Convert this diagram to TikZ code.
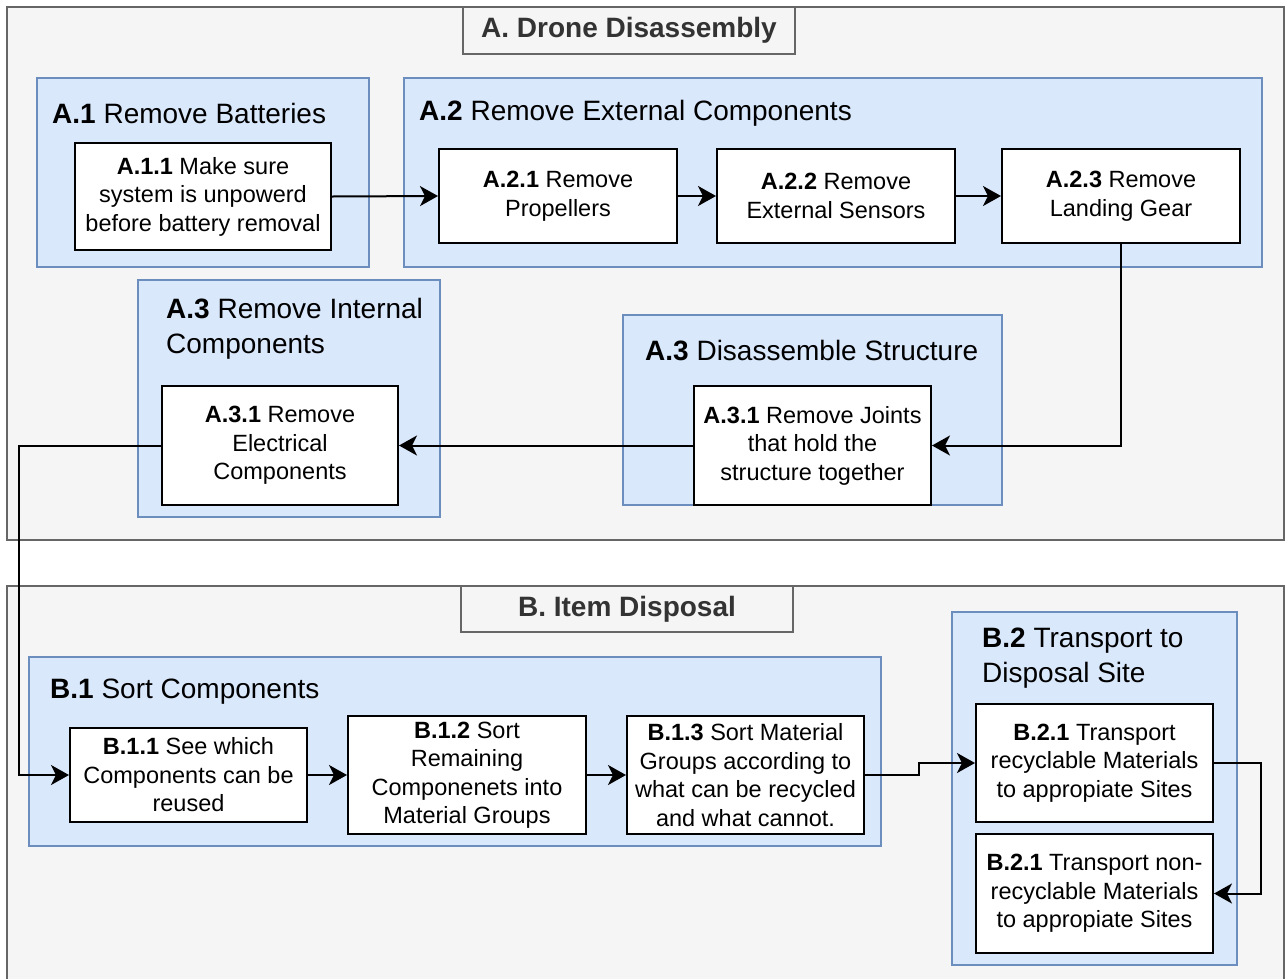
\documentclass[tikz,border=0pt]{standalone}
\usepackage{fontspec}
\setmainfont{Liberation Sans}
\usetikzlibrary{positioning, arrows.meta}

\definecolor{grpfill}{HTML}{DAE8FC}
\definecolor{grpline}{HTML}{6C8EBF}
\definecolor{stagefill}{HTML}{F5F5F5}
\definecolor{stageline}{HTML}{666666}
\definecolor{stagetext}{HTML}{333333}

\tikzset{
	stage/.style={draw=stageline, fill=stagefill, line width=2pt},
	stagehdr/.style={draw=stageline, fill=stagefill, line width=2pt, text=stagetext,
		font=\fontsize{28}{34}\selectfont\bfseries, minimum width=332pt, minimum height=47pt, inner sep=0pt},
	grp/.style={draw=grpline, fill=grpfill, line width=2pt},
	grptitle/.style={anchor=west, align=left, inner sep=0pt, font=\fontsize{28}{35}\selectfont},
	task/.style={draw=black, fill=white, line width=2pt, align=center, inner sep=0pt,
		font=\fontsize{23.5}{28.5}\selectfont},
	flow/.style={line width=2pt, -{Stealth[length=18pt, width=20pt, inset=5pt]}},
}

\begin{document}
\begin{tikzpicture}[x=1pt, y=-1pt]
		\useasboundingbox (0, 0) rectangle (1285, 978);
		\clip (0, 0) rectangle (1285, 978);
		
		% Two stages
		\draw[stage] (7, 7) rectangle (1284, 540);
		\draw[stage] (7, 586) rectangle (1284, 995);
		\node[stagehdr] (hdrA) at (629, 30.5) {A. Drone Disassembly};
		\node[stagehdr, minimum height=46pt] (hdrB) at (627, 609) {B. Item Disposal};
		
		% Groups of stage A
		\draw[grp] (37, 78) rectangle (369, 267);
		\draw[grp] (404, 78) rectangle (1262, 267);
		\draw[grp] (138, 280) rectangle (440, 517);
		\draw[grp] (623, 315) rectangle (1002, 505);
		\node[grptitle] (tA1) at (52, 113) {\textbf{A.1} Remove Batteries};
		\node[grptitle] (tA2) at (419, 113) {\textbf{A.2} Remove External Components};
		\node[grptitle] (tA3i) at (166, 328.5) {\textbf{A.3} Remove Internal\\Components};
		\node[grptitle] (tA3d) at (645, 351) {\textbf{A.3} Disassemble Structure};
		
		% Groups of stage B
		\draw[grp] (29, 657) rectangle (881, 846);
		\draw[grp] (952, 612) rectangle (1237, 965);
		\node[grptitle] (tB1) at (50, 692) {\textbf{B.1} Sort Components};
		\node[grptitle] (tB2) at (982, 658.5) {\textbf{B.2} Transport to\\Disposal Site};
		
		% Tasks
		\node[task, minimum width=256pt, minimum height=107pt] (a11) at (203, 196.5)
			{\textbf{A.1.1} Make sure\\system is unpowerd\\before battery removal};
		\node[task, minimum width=238pt, minimum height=94pt] (a21) at (558, 196)
			{\textbf{A.2.1} Remove\\Propellers};
		\node[task, minimum width=238pt, minimum height=94pt] (a22) at (836, 196)
			{\textbf{A.2.2} Remove\\External Sensors};
		\node[task, minimum width=238pt, minimum height=94pt] (a23) at (1121, 196)
			{\textbf{A.2.3} Remove\\Landing Gear};
		\node[task, minimum width=236pt, minimum height=119pt] (a31e) at (280, 445.5)
			{\textbf{A.3.1} Remove\\Electrical\\Components};
		\node[task, minimum width=237pt, minimum height=119pt] (a31j) at (812.5, 445.5)
			{\textbf{A.3.1} Remove Joints\\that hold the\\structure together};
		\node[task, minimum width=237pt, minimum height=94pt] (b11) at (188.5, 775)
			{\textbf{B.1.1} See which\\Components can be\\reused};
		\node[task, minimum width=238pt, minimum height=118pt] (b12) at (467, 775)
			{\textbf{B.1.2} Sort\\Remaining\\Componenets into\\Material Groups};
		\node[task, minimum width=237pt, minimum height=118pt] (b13) at (745.5, 775)
			{\textbf{B.1.3} Sort Material\\Groups according to\\what can be recycled\\and what cannot.};
		\node[task, minimum width=237pt, minimum height=118pt] (b21a) at (1094.5, 763)
			{\textbf{B.2.1} Transport\\recyclable Materials\\to appropiate Sites};
		\node[task, minimum width=237pt, minimum height=119pt] (b21b) at (1094.5, 893.5)
			{\textbf{B.2.1} Transport non-\\recyclable Materials\\to appropiate Sites};
		
		% Connectors
		\foreach \a/\b in {a11/a21, a21/a22, a22/a23, b11/b12, b12/b13}
			\draw[flow] (\a.east) -- (\b.west);
		\draw[flow] (a23.south) |- (a31j.east);
		\draw[flow] (a31j.west) -- (a31e.east);
		\draw[flow] (a31e.west) -- ++(-142, 0) |- (b11.west);
		\draw[flow] (b13.east) -- ++(54, 0) |- (b21a.west);
		\draw[flow] (b21a.east) -- ++(47, 0) |- (b21b.east);
	\end{tikzpicture}
\end{document}
